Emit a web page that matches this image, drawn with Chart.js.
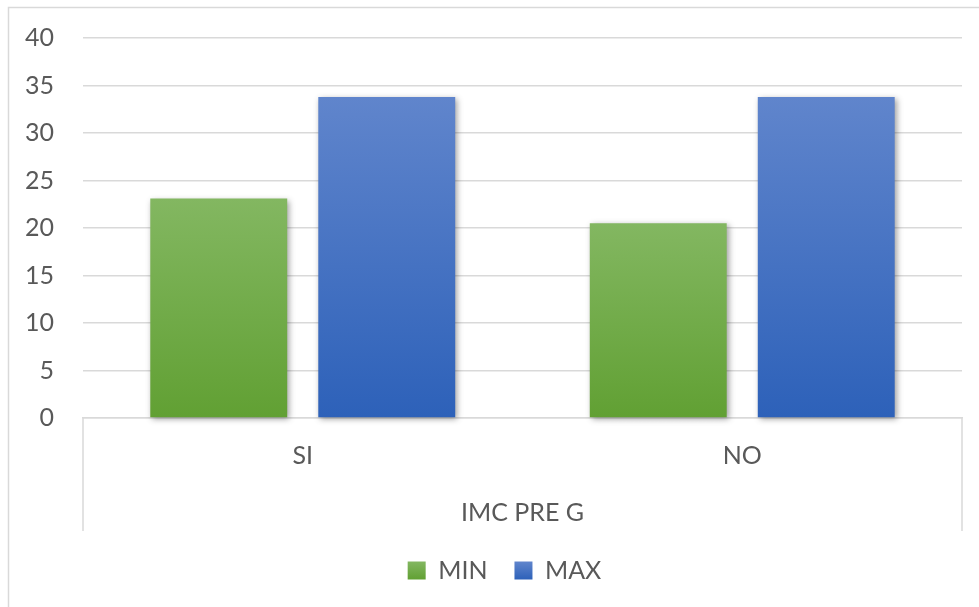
<!DOCTYPE html>
<html>
<head>
<meta charset="utf-8">
<title>IMC PRE G</title>
<script src="https://cdn.jsdelivr.net/npm/chart.js@4.4.1/dist/chart.umd.min.js"></script>
<style>
  html, body { margin: 0; padding: 0; background: #ffffff; overflow: hidden; width: 979px; height: 607px; }
  #wrap { position: relative; width: 1001px; height: 607px; }
  canvas { display: block; }
</style>
</head>
<body>
<div id="wrap"><canvas id="chart" width="1001" height="607"></canvas></div>
<script>
// Chart data
const categories = ['SI', 'NO'];
const groupTitle = 'IMC PRE G';
const seriesNames = ['MIN', 'MAX'];
const minValues = [23.1, 20.5];
const maxValues = [33.8, 33.8];
const yAxisMin = 0;
const yAxisMax = 40;
const yAxisStep = 5;

// Styling
const FONT = 'Lato, "Open Sans", "DejaVu Sans", sans-serif';
const TEXT = '#595959';
const LINE = '#d9d9d9';
const GREEN = ['#83b761', '#61a033'];
const BLUE = ['#6085cc', '#2d61b9'];

// Vertical gradient spanning each bar from its top to the baseline
function barGradient(colors) {
  return (c) => {
    const chart = c.chart;
    const y = chart.scales && chart.scales.y;
    if (!chart.chartArea || !y || c.raw == null) return colors[1];
    const y0 = y.getPixelForValue(0);
    const y1 = y.getPixelForValue(c.raw);
    if (!isFinite(y0) || !isFinite(y1) || y0 === y1) return colors[1];
    const g = chart.ctx.createLinearGradient(0, y1, 0, y0);
    g.addColorStop(0, colors[0]);
    g.addColorStop(1, colors[1]);
    return g;
  };
}

// Soft drop shadow under the bars
const barShadow = {
  id: 'barShadow',
  beforeDatasetsDraw(chart) {
    const c = chart.ctx;
    c.save();
    c.shadowColor = 'rgba(0,0,0,0.38)';
    c.shadowBlur = 6;
    c.shadowOffsetX = 2;
    c.shadowOffsetY = 2;
  },
  afterDatasetsDraw(chart) {
    chart.ctx.restore();
  }
};

// Chart frame and the box around the category labels
const frame = {
  id: 'frame',
  beforeDraw(chart) {
    const c = chart.ctx;
    c.save();
    c.fillStyle = '#ffffff';
    c.fillRect(0, 0, chart.width, chart.height);
    c.strokeStyle = LINE;
    c.lineWidth = 1.5;
    c.beginPath();
    c.moveTo(8.5, chart.height + 5);
    c.lineTo(8.5, 7.5);
    c.lineTo(chart.width + 5, 7.5);
    c.stroke();
    c.restore();

    // gradient legend swatches
    const lg = chart.legend;
    if (lg && lg.legendItems && lg.legendHitBoxes) {
      const cols = [GREEN, BLUE];
      lg.legendItems.forEach((item, i) => {
        const hb = lg.legendHitBoxes[i];
        if (!hb) return;
        const top = hb.top + (hb.height - 18) / 2;
        const g = chart.ctx.createLinearGradient(0, top, 0, top + 18);
        g.addColorStop(0, cols[i][0]);
        g.addColorStop(1, cols[i][1]);
        item.fillStyle = g;
      });
    }
  },
  afterDraw(chart) {
    const x = chart.scales.x;
    const c = chart.ctx;
    c.save();
    c.strokeStyle = LINE;
    c.lineWidth = 1.5;
    c.beginPath();
    c.moveTo(x.left, x.top);
    c.lineTo(x.left, x.bottom);
    c.moveTo(x.right, x.top);
    c.lineTo(x.right, x.bottom);
    c.stroke();
    c.restore();
  }
};

new Chart(document.getElementById('chart'), {
  type: 'bar',
  data: {
    labels: categories,
    datasets: [
      {
        label: seriesNames[0],
        data: minValues,
        backgroundColor: barGradient(GREEN),
        borderWidth: 0,
        clip: 12
      },
      {
        label: seriesNames[1],
        data: maxValues,
        backgroundColor: barGradient(BLUE),
        borderWidth: 0,
        clip: 12
      }
    ]
  },
  options: {
    responsive: false,
    animation: false,
    devicePixelRatio: 1,
    categoryPercentage: 0.7645,
    barPercentage: 0.815,
    layout: { padding: { top: 38, left: 8, right: 0, bottom: 14 } },
    plugins: {
      legend: {
        position: 'bottom',
        labels: {
          boxWidth: 18,
          boxHeight: 18,
          padding: 27,
          color: TEXT,
          font: { family: FONT, size: 25 }
        }
      },
      tooltip: { enabled: false }
    },
    scales: {
      x: {
        afterFit(s) { s.height = 113; },
        grid: { display: false, drawTicks: false },
        border: { display: true, color: LINE, width: 1.5 },
        ticks: { color: TEXT, padding: 23, font: { family: FONT, size: 25 } },
        title: {
          display: true,
          text: groupTitle,
          color: TEXT,
          font: { family: FONT, size: 25 },
          padding: { top: 0, bottom: 3 }
        }
      },
      y: {
        min: yAxisMin,
        max: yAxisMax,
        afterFit(s) { s.width = 75; s.paddingTop = 0; s.paddingBottom = 0; },
        grid: { color: LINE, lineWidth: 1.5, drawTicks: false },
        border: { display: false },
        ticks: { stepSize: yAxisStep, color: TEXT, padding: 29, font: { family: FONT, size: 25 } }
      },
      yRight: {
        position: 'right',
        afterFit(s) { s.width = 39; s.paddingTop = 0; s.paddingBottom = 0; },
        grid: { display: false, drawTicks: false },
        border: { display: false },
        ticks: { display: false }
      }
    }
  },
  plugins: [frame, barShadow]
});
</script>
</body>
</html>
